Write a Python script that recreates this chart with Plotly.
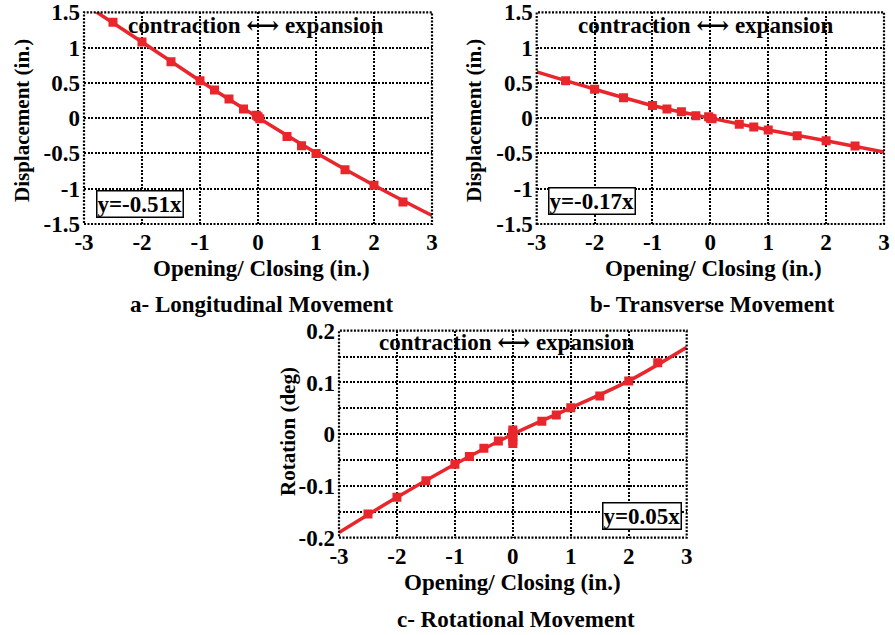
import plotly.graph_objects as go

# ---------------- data ----------------
long_x = [-2.5, -2.0, -1.5, -1.0, -0.75, -0.5, -0.25, -0.03, 0.0, 0.03, 0.5, 0.75, 1.0, 1.5, 2.0, 2.5]
long_y = [1.36, 1.08, 0.80, 0.53, 0.40, 0.27, 0.13, 0.04, 0.02, -0.01, -0.26, -0.39, -0.50, -0.73, -0.95, -1.19]
long_fit_x = [-3.0, -2.0, -1.0, 0.0, 1.0, 2.0, 3.0]
long_fit_y = [1.62, 1.08, 0.53, 0.01, -0.49, -0.95, -1.38]

trans_x = [-2.5, -2.0, -1.5, -1.0, -0.75, -0.5, -0.25, -0.03, 0.0, 0.03, 0.5, 0.75, 1.0, 1.5, 2.0, 2.5]
trans_y = [0.53, 0.41, 0.29, 0.18, 0.13, 0.09, 0.035, 0.02, 0.0, -0.01, -0.086, -0.125, -0.167, -0.248, -0.32, -0.394]
trans_fit_x = [-3.0, -2.0, -1.0, 0.0, 1.0, 2.0, 3.0]
trans_fit_y = [0.655, 0.41, 0.18, 0.0, -0.167, -0.32, -0.48]

rot_x = [-2.5, -2.0, -1.5, -1.0, -0.75, -0.5, -0.25, 0.0, 0.0, 0.0, 0.0, 0.0, 0.5, 0.75, 1.0, 1.5, 2.0, 2.5]
rot_y = [-0.154, -0.122, -0.09, -0.058, -0.043, -0.027, -0.013, 0.008, 0.003, -0.005, -0.012, -0.018, 0.025, 0.037, 0.051, 0.074, 0.103, 0.138]
rot_fit_x = [-3.0, -2.0, -1.0, 0.0, 1.0, 2.0, 3.0]
rot_fit_y = [-0.19, -0.122, -0.058, 0.0, 0.051, 0.103, 0.168]

disp_ticks = [-1.5, -1, -0.5, 0, 0.5, 1, 1.5]
disp_ticktext = ["-1.5", "-1", "-0.5", "0", "0.5", "1", "1.5"]
rot_ticks = [-0.2, -0.15, -0.1, -0.05, 0, 0.05, 0.1, 0.15, 0.2]
rot_ticktext = ["-0.2", "", "-0.1", "", "0", "", "0.1", "", "0.2"]
x_ticks = [-3, -2, -1, 0, 1, 2, 3]
x_ticktext = ["-3", "-2", "-1", "0", "1", "2", "3"]

equations = ["y=-0.51x", "y=-0.17x", "y=0.05x"]
captions = ["a- Longitudinal Movement", "b- Transverse Movement", "c- Rotational Movement"]
y_titles = ["Displacement (in.)", "Displacement (in.)", "Rotation (deg)"]
x_title = "Opening/ Closing (in.)"
top_text = "contraction ⟷ expansion"

# ---------------- styling ----------------
RED = "#e8262c"
FONT = "Liberation Serif"
FS_TICK = 23
FS_TXT = 23
FS_YT = 21
W, H = 895, 635

def px_x(p):
    return p / W

def px_y(p):
    return 1 - p / H

def bold(size, fam=FONT):
    return dict(family=fam, size=size, color="black", weight="bold")

fig = go.Figure()

panels = [
    dict(xa="x", ya="y", dx=[84, 432], dy=[12.3, 224], xs=long_x, ys=long_y, fx=long_fit_x, fy=long_fit_y,
         yr=[-1.5, 1.5], yt=disp_ticks, ytt=disp_ticktext),
    dict(xa="x2", ya="y2", dx=[536.7, 884], dy=[12.3, 224], xs=trans_x, ys=trans_y, fx=trans_fit_x, fy=trans_fit_y,
         yr=[-1.5, 1.5], yt=disp_ticks, ytt=disp_ticktext),
    dict(xa="x3", ya="y3", dx=[339, 686.7], dy=[330.7, 537.7], xs=rot_x, ys=rot_y, fx=rot_fit_x, fy=rot_fit_y,
         yr=[-0.2, 0.2], yt=rot_ticks, ytt=rot_ticktext),
]

layout = dict(
    width=W, height=H, margin=dict(l=0, r=0, t=0, b=0, autoexpand=False),
    paper_bgcolor="white", plot_bgcolor="white", showlegend=False,
    font=bold(FS_TXT),
)
annotations = []
shapes = []

eq_pos = [(-2.04, -1.22), (-2.045, -1.17), (2.23, -0.159)]
top_pos = [(-0.04, 1.32), (-0.08, 1.32), (-0.1, 0.178)]
xt_pos = [(261, 268), (713, 268), (512.5, 582)]
cap_pos = [(262, 304), (712, 304), (516, 619)]
yt_pos = [(22, 121), (474, 121), (288, 432)]

for i, p in enumerate(panels):
    fig.add_trace(go.Scatter(x=p["fx"], y=p["fy"], mode="lines", xaxis=p["xa"], yaxis=p["ya"],
                             line=dict(color=RED, width=3.5, shape="spline"), cliponaxis=True))
    fig.add_trace(go.Scatter(x=p["xs"], y=p["ys"], mode="markers", xaxis=p["xa"], yaxis=p["ya"],
                             marker=dict(symbol="square", size=9, color=RED), cliponaxis=True))
    suffix = "" if i == 0 else str(i + 1)
    layout["xaxis" + suffix] = dict(
        domain=[px_x(p["dx"][0]), px_x(p["dx"][1])], anchor=p["ya"], range=[-3, 3],
        tickvals=x_ticks, ticktext=x_ticktext, showgrid=True, gridcolor="black", gridwidth=1.8,
        griddash="2px,1.5px", zeroline=False, showline=False, ticks="", ticklabelstandoff=2,
        tickfont=bold(FS_TICK), fixedrange=True, automargin=False,
    )
    layout["yaxis" + suffix] = dict(
        domain=[px_y(p["dy"][1]), px_y(p["dy"][0])], anchor=p["xa"], range=p["yr"],
        tickvals=p["yt"], ticktext=p["ytt"], showgrid=True, gridcolor="black", gridwidth=1.8,
        griddash="2px,1.5px", zeroline=False, showline=False, ticks="", ticklabelstandoff=3,
        tickfont=bold(FS_TICK), fixedrange=True, automargin=False,
    )
    shapes.append(dict(type="rect", xref=p["xa"] + " domain", yref=p["ya"] + " domain",
                       x0=0, x1=1, y0=0, y1=1, line=dict(color="black", width=2.2, dash="2px,1.5px"),
                       layer="above"))
    annotations.append(dict(x=eq_pos[i][0], y=eq_pos[i][1], xref=p["xa"], yref=p["ya"], text=equations[i],
                            showarrow=False, bgcolor="white", bordercolor="black", borderwidth=1.5,
                            borderpad=0, font=bold(FS_TXT)))
    annotations.append(dict(x=top_pos[i][0], y=top_pos[i][1], xref=p["xa"], yref=p["ya"], text=top_text,
                            showarrow=False, font=bold(FS_TXT, FONT + ", DejaVu Serif")))
    annotations.append(dict(x=px_x(xt_pos[i][0]), y=px_y(xt_pos[i][1]), xref="paper", yref="paper",
                            text=x_title, showarrow=False, xanchor="center", yanchor="middle",
                            font=bold(FS_TXT)))
    annotations.append(dict(x=px_x(cap_pos[i][0]), y=px_y(cap_pos[i][1]), xref="paper", yref="paper",
                            text=captions[i], showarrow=False, xanchor="center", yanchor="middle",
                            font=bold(FS_TXT)))
    annotations.append(dict(x=px_x(yt_pos[i][0]), y=px_y(yt_pos[i][1]), xref="paper", yref="paper",
                            text=y_titles[i], showarrow=False, textangle=-90, xanchor="center", yanchor="middle",
                            font=bold(FS_YT)))

layout["annotations"] = annotations
layout["shapes"] = shapes
fig.update_layout(**layout)
fig.write_html("out.html")
